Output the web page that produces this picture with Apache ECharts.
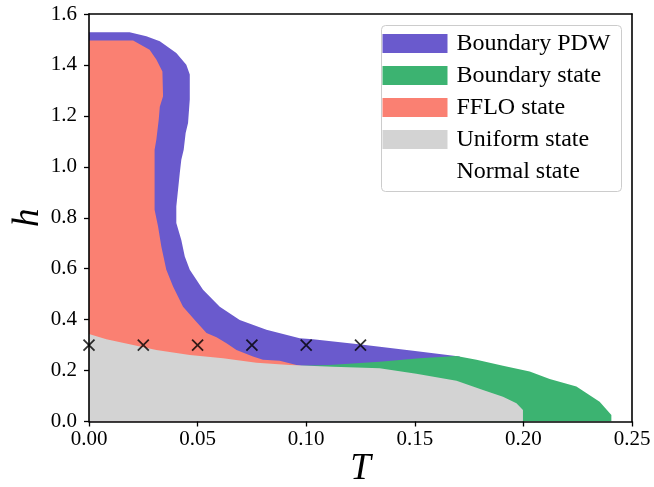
<!DOCTYPE html>
<html>
<head>
<meta charset="utf-8">
<script src="https://cdn.jsdelivr.net/npm/echarts@6/dist/echarts.min.js"></script>
<style>
  html, body { margin: 0; padding: 0; background: #fff; }
  #chart { width: 654px; height: 487px; }
</style>
</head>
<body>
<div id="chart"></div>
<script>
// Phase regions in the (T, h) plane, each as a closed outline of [T, h] points.
const boundaryPDW = [[0,0],[0,1.528],[0.0187,1.528],[0.0264,1.513],[0.0326,1.493],[0.0402,1.447],
  [0.0448,1.401],[0.0464,1.362],[0.0464,1.264],[0.0456,1.172],[0.0445,1.133],[0.0436,1.067],
  [0.0425,1.028],[0.0418,0.976],[0.0402,0.844],[0.0402,0.779],[0.0425,0.713],[0.0441,0.648],
  [0.0464,0.596],[0.0525,0.517],[0.0602,0.451],[0.0694,0.399],[0.0817,0.360],[0.0970,0.327],
  [0.1031,0.323],[0.1262,0.301],[0.1492,0.278],[0.1707,0.255],[0.1707,0]];

const boundaryState = [[0.0975,0],[0.0975,0.219],[0.1108,0.222],[0.1338,0.235],[0.1522,0.248],
  [0.1692,0.257],[0.1784,0.242],[0.1906,0.219],[0.2029,0.196],[0.2121,0.167],[0.2244,0.137],
  [0.2351,0.078],[0.2405,0.026],[0.2405,0]];

const ffloState = [[0,0],[0,1.496],[0.0203,1.496],[0.0279,1.460],[0.0310,1.421],[0.0338,1.374],
  [0.0341,1.277],[0.0326,1.236],[0.0321,1.185],[0.0310,1.106],[0.0302,1.067],[0.0302,0.831],
  [0.0318,0.766],[0.0333,0.687],[0.0356,0.596],[0.0387,0.530],[0.0433,0.451],[0.0494,0.392],
  [0.0541,0.347],[0.0587,0.331],[0.0633,0.307],[0.0679,0.281],[0.0755,0.255],[0.0801,0.242],
  [0.0878,0.239],[0.0955,0.222],[0.0975,0.219],[0.0975,0]];

const uniformState = [[0,0],[0,0.344],[0.008,0.323],[0.0187,0.303],[0.031,0.281],[0.0464,0.261],
  [0.0617,0.248],[0.0771,0.231],[0.0924,0.222],[0.1124,0.215],[0.1338,0.209],[0.1507,0.187],
  [0.1692,0.160],[0.1814,0.124],[0.1906,0.097],[0.1968,0.072],[0.1998,0.045],[0.1998,0]];

// Sampled points marked with crosses
const markerT = [0, 0.025, 0.05, 0.075, 0.1, 0.125];
const markerH = [0.3, 0.3, 0.3, 0.3, 0.3, 0.3];

// Axis tick labels
const xTicks = ['0.00','0.05','0.10','0.15','0.20','0.25'];
const yTicks = ['0.0','0.2','0.4','0.6','0.8','1.0','1.2','1.4','1.6'];

const SERIF = '"Liberation Serif", "DejaVu Serif", serif';

function region(name, color, pts, z) {
  return {
    type: 'custom',
    name: name,
    z: z,
    coordinateSystem: 'cartesian2d',
    clip: true,
    data: pts,
    encode: { x: 0, y: 1 },
    itemStyle: { color: color },
    renderItem: function (params, api) {
      if (params.dataIndex !== 0) return;
      const points = pts.map(function (p) { return api.coord(p); });
      return { type: 'polygon', shape: { points: points }, style: { fill: color } };
    }
  };
}

const chart = echarts.init(document.getElementById('chart'), null, { renderer: 'canvas' });

const axisCommon = {
  axisLine: { show: true, onZero: false, lineStyle: { color: '#000', width: 1.6 } },
  axisTick: { show: true, inside: false, length: 5, lineStyle: { color: '#000', width: 1.3 } },
  splitLine: { show: false },
  z: 10
};

chart.setOption({
  animation: false,
  backgroundColor: '#fff',
  grid: { left: 89, top: 14, width: 543, height: 407.5, containLabel: false, outerBoundsMode: 'none' },
  legend: {
    orient: 'vertical',
    left: 381.5,
    top: 25.5,
    padding: [6, 11, 8, 1],
    itemWidth: 65,
    itemHeight: 19,
    itemGap: 8,
    borderColor: '#cccccc',
    borderWidth: 1,
    borderRadius: 4,
    backgroundColor: 'rgba(255,255,255,0.8)',
    icon: 'rect',
    data: ['Boundary PDW', 'Boundary state', 'FFLO state', 'Uniform state', 'Normal state'],
    textStyle: { fontFamily: SERIF, fontSize: 24, color: '#000', padding: [0, 0, 0, 4] }
  },
  xAxis: [
    Object.assign({}, axisCommon, {
      type: 'value', min: 0, max: 0.25, interval: 0.05, position: 'bottom',
      name: 'T', nameLocation: 'middle', nameGap: 29, nameMoveOverlap: false,
      nameTextStyle: { fontFamily: SERIF, fontStyle: 'italic', fontSize: 37, color: '#000' },
      axisLabel: {
        margin: 7, color: '#000', fontFamily: SERIF, fontSize: 21,
        formatter: function (v) { return xTicks[Math.round(v / 0.05)]; }
      }
    }),
    Object.assign({}, axisCommon, {
      type: 'value', min: 0, max: 0.25, position: 'top',
      axisTick: { show: false }, axisLabel: { show: false }
    })
  ],
  yAxis: [
    Object.assign({}, axisCommon, {
      type: 'value', min: 0, max: 1.6, interval: 0.2, position: 'left',
      name: 'h', nameLocation: 'middle', nameGap: 42, nameRotate: 90, nameMoveOverlap: false,
      nameTextStyle: { fontFamily: SERIF, fontStyle: 'italic', fontSize: 37, color: '#000' },
      axisLabel: {
        margin: 12, color: '#000', fontFamily: SERIF, fontSize: 21,
        formatter: function (v) { return yTicks[Math.round(v / 0.2)]; }
      }
    }),
    Object.assign({}, axisCommon, {
      type: 'value', min: 0, max: 1.6, position: 'right',
      axisTick: { show: false }, axisLabel: { show: false }
    })
  ],
  series: [
    region('Boundary PDW', '#6A5ACD', boundaryPDW, 2),
    region('Boundary state', '#3CB371', boundaryState, 3),
    region('FFLO state', '#FA8072', ffloState, 4),
    region('Uniform state', '#D3D3D3', uniformState, 5),
    { type: 'custom', name: 'Normal state', itemStyle: { color: '#ffffff' }, data: [],
      renderItem: function () { return null; } },
    {
      type: 'scatter',
      name: 'markers',
      z: 8,
      symbol: 'path://M0,0L10,10M10,0L0,10',
      symbolSize: 11,
      itemStyle: { color: 'none', borderColor: '#000', borderWidth: 1.8 },
      data: markerT.map(function (t, i) { return [t, markerH[i]]; })
    }
  ]
});
</script>
</body>
</html>
